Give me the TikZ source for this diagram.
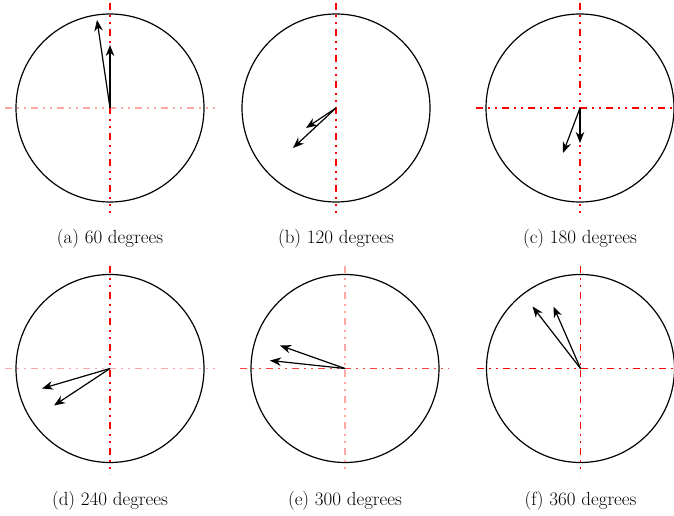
\documentclass[tikz,border=0pt]{standalone}
\usepackage{tikz}
\usetikzlibrary{arrows.meta}
\tikzset{
    % black outer circle
    rim/.style={
        line width=1.2pt,
        black
    },
    % black vector arrows
    vecarrow/.style={
        line width=1.2pt,
        black,
        -{Stealth[length=11pt, width=8.5pt, inset=3.5pt]}
    },
    % red centre lines
    redaxis/.style={
        line width=1.1pt,
        red,
        dash pattern=on 7pt off 5pt on 2pt off 5pt on 2pt off 5pt
    },
    paleaxis/.style={
        redaxis,
        red!35
    }
}

\begin{document}
\begin{tikzpicture}[x=1pt,y=1pt,font=\fontsize{19}{22}\selectfont]
    \useasboundingbox (0,0) rectangle (674,515);
    \clip (0,0) rectangle (674,515);

    % ===================== (a) =====================
    \begin{scope}[xshift=110pt,yshift=407pt]
        \path (0,0) coordinate (oa)
              (-13,88) coordinate (a1)
              (0,63) coordinate (a2);
        \draw[rim] (oa) circle (94);
        \draw[paleaxis] (-105,0) -- (105,0);
        \draw[redaxis] (0,105) -- (0,-105);
        \draw[vecarrow] (oa) -- (a1);
        \draw[vecarrow] (oa) -- (a2);
        \node (la) at (0,-131) {(a) 60 degrees};
    \end{scope}

    % ===================== (b) =====================
    \begin{scope}[xshift=336pt,yshift=407pt]
        \path (0,0) coordinate (ob)
              (-30,-20) coordinate (b1)
              (-43,-40) coordinate (b2);
        \draw[rim] (ob) circle (94);
        \draw[redaxis] (0,105) -- (0,-105);
        \draw[vecarrow] (ob) -- (b1);
        \draw[vecarrow] (ob) -- (b2);
        \node (lb) at (0,-131) {(b) 120 degrees};
    \end{scope}

    % ===================== (c) =====================
    \begin{scope}[xshift=580pt,yshift=407pt]
        \path (0,0) coordinate (oc)
              (0,-35) coordinate (c1)
              (-17,-45) coordinate (c2);
        \draw[rim] (oc) circle (94);
        \draw[redaxis] (-104,0) -- (105,0);
        \draw[redaxis] (0,105) -- (0,-105);
        \draw[vecarrow] (oc) -- (c1);
        \draw[vecarrow] (oc) -- (c2);
        \node (lc) at (0,-131) {(c) 180 degrees};
    \end{scope}

    % ===================== (d) =====================
    \begin{scope}[xshift=110pt,yshift=146.5pt]
        \path (0,0) coordinate (od)
              (-68,-20) coordinate (d1)
              (-56,-37) coordinate (d2);
        \draw[rim] (od) circle (94);
        \draw[paleaxis] (-105,0) -- (105,0);
        \draw[redaxis] (0,103) -- (0,-105);
        \draw[vecarrow] (od) -- (d1);
        \draw[vecarrow] (od) -- (d2);
        \node (ld) at (0,-132) {(d) 240 degrees};
    \end{scope}

    % ===================== (e) =====================
    \begin{scope}[xshift=345pt,yshift=146.5pt]
        \path (0,0) coordinate (oe)
              (-65,23) coordinate (e1)
              (-75,8) coordinate (e2);
        \draw[rim] (oe) circle (94);
        \draw[redaxis,red!75] (-105,0) -- (104,0);
        \draw[paleaxis] (0,103) -- (0,-105);
        \draw[vecarrow] (oe) -- (e1);
        \draw[vecarrow] (oe) -- (e2);
        \node (le) at (0,-132) {(e) 300 degrees};
    \end{scope}

    % ===================== (f) =====================
    \begin{scope}[xshift=580.5pt,yshift=146.5pt]
        \path (0,0) coordinate (of)
              (-48,62) coordinate (f1)
              (-27,62) coordinate (f2);
        \draw[rim] (of) circle (94);
        \draw[redaxis] (-104,0) -- (105,0);
        \draw[redaxis] (0,103) -- (0,-105);
        \draw[vecarrow] (of) -- (f1);
        \draw[vecarrow] (of) -- (f2);
        \node (lf) at (0,-132) {(f) 360 degrees};
    \end{scope}
\end{tikzpicture}
\end{document}
